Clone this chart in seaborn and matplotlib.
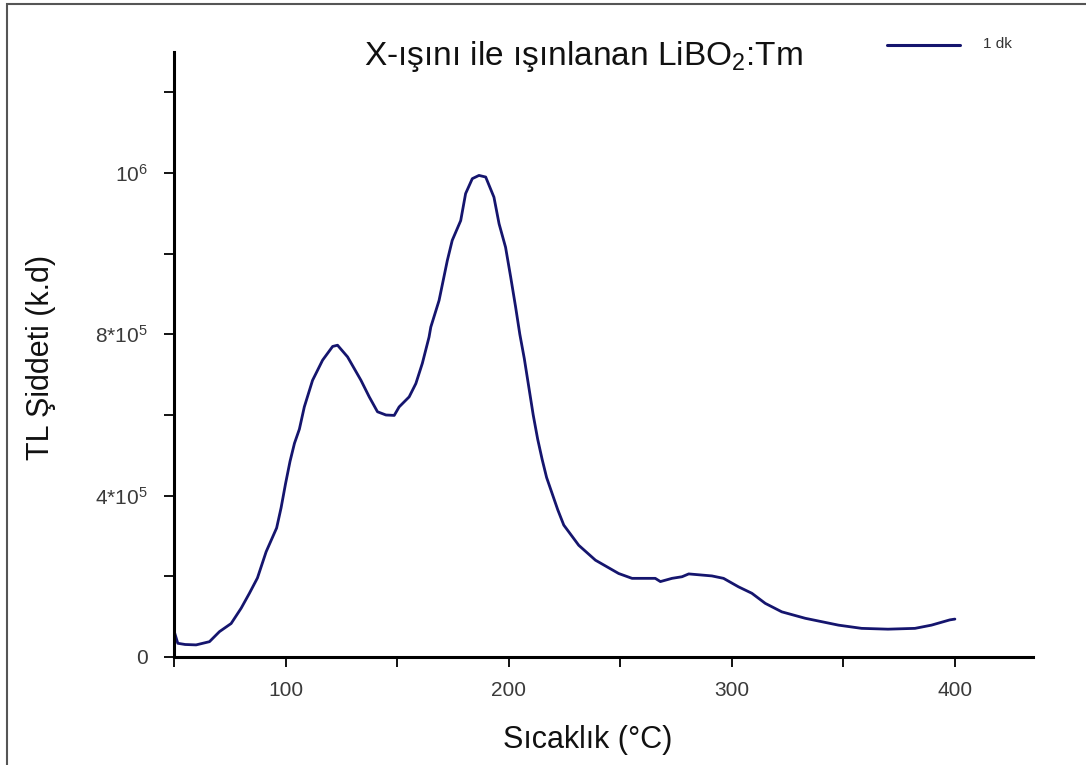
import matplotlib
matplotlib.use("Agg")
import matplotlib.pyplot as plt
import seaborn as sns
import pandas as pd
from matplotlib.patches import Rectangle

temperature = [50.0, 51.7, 55.0, 59.9, 65.9, 70.4, 75.6, 80.1, 83.8, 87.4, 91.3, 96.0, 98.0,
               100.0, 102.0, 104.0, 106.2, 108.4, 112.1, 116.6, 121.1, 123.3, 127.8, 133.8, 137.5,
               141.2, 145.0, 148.7, 150.9, 155.4, 158.4, 161.3, 164.3, 165.1, 168.8, 172.5,
               174.7, 178.5, 180.7, 183.7, 186.7, 189.7, 193.4, 195.7, 198.6, 200.9, 203.1,
               205.0, 207.0, 209.0, 211.0, 213.0, 215.0, 217.0, 219.5, 222.0, 224.7, 231.4,
               238.9, 249.3, 255.3, 265.7, 268.0, 273.2, 277.7, 280.7, 291.1, 296.3, 303.0,
               309.0, 315.0, 322.4, 332.9, 347.8, 358.2, 370.0, 382.1, 389.5, 397.7, 400.0]
intensity = [65000, 34000, 31000, 30000, 38000, 63000, 83000, 121000, 158000, 196000, 261000,
             320000, 370000, 430000, 485000, 530000, 565000, 620000, 686000, 736000, 770000,
             773000, 744000, 686000, 645000, 608000, 600000, 599000, 620000, 645000, 678000,
             728000, 793000, 818000, 884000, 983000, 1033000, 1082000, 1149000, 1186000,
             1194000, 1190000, 1140000, 1074000, 1016000, 942000, 868000, 800000, 740000,
             670000, 600000, 540000, 490000, 445000, 405000, 365000, 327000, 277000, 240000,
             207000, 195000, 195000, 187000, 195000, 199000, 206000, 201000, 195000, 174000,
             158000, 133000, 112000, 96000, 79000, 71000, 69000, 71000, 79000, 92000, 94000]
series_name = "1 dk"

x_major = [100, 200, 300, 400]
x_major_labels = ["100", "200", "300", "400"]
x_minor = [50, 150, 250, 350]
y_major = [0, 400000, 800000, 1200000]
y_major_labels = ["0", "4*10$^5$", "8*10$^5$", "10$^6$"]
y_minor = [200000, 600000, 1000000, 1400000]

title = "X-ışını ile ışınlanan LiBO$_2$:Tm"
xlabel = "Sıcaklık (°C)"
ylabel = "TL Şiddeti (k.d)"

sns.set_style("ticks")
plt.rcParams['font.family'] = ['Liberation Sans', 'DejaVu Sans']
plt.rcParams['mathtext.fontset'] = 'custom'
plt.rcParams['mathtext.rm'] = 'Liberation Sans'
plt.rcParams['mathtext.it'] = 'Liberation Sans'

df = pd.DataFrame({"temp": temperature, "tl": intensity, "series": series_name})

fig = plt.figure(figsize=(10.86, 7.65), dpi=100)
ax = fig.add_axes([174 / 1086, 1 - 657 / 765, (1033 - 174) / 1086, (657 - 52) / 765])

line_color = "#15156e"
sns.lineplot(data=df, x="temp", y="tl", hue="series", palette=[line_color],
             linewidth=2.0, ax=ax, legend=False)

ax.set_xlim(50, 435)
ax.set_ylim(0, 1500000)

ax.set_xticks(x_major)
ax.set_xticklabels(x_major_labels)
ax.set_xticks(x_minor, minor=True)
ax.set_yticks(y_major)
ax.set_yticklabels(y_major_labels)
ax.set_yticks(y_minor, minor=True)

for s in ["top", "right"]:
    ax.spines[s].set_visible(False)
for s in ["left", "bottom"]:
    ax.spines[s].set_linewidth(2.2)
    ax.spines[s].set_color("black")

ax.tick_params(which="both", direction="out", length=7, width=1.3, color="black")
ax.tick_params(axis="both", which="major", labelsize=15, labelcolor="#3a3a3a")
ax.tick_params(axis="x", which="major", pad=10)
ax.tick_params(axis="y", which="major", pad=12)

ax.set_xlabel(xlabel, fontsize=22, color="#111111", va="center", ha="center")
ax.xaxis.set_label_coords((588 - 174) / 859, (657 - 740) / 605)
ax.set_ylabel(ylabel, fontsize=22, color="#111111", va="center", ha="center")
ax.yaxis.set_label_coords((41 - 174) / 859, (657 - 357) / 605)

fig.text(583 / 1086, 1 - 57 / 765, title, fontsize=24, ha="center", va="center", color="#111111")

# legend
fig.lines.append(plt.Line2D([887 / 1086, 960 / 1086], [1 - 45 / 765, 1 - 45 / 765],
                            color=line_color, linewidth=2.2, transform=fig.transFigure))
fig.text(983 / 1086, 1 - 44 / 765, series_name, fontsize=11, ha="left", va="center", color="#333333")

# outer frame
fig.patches.append(Rectangle((7 / 1086, -0.1), 1.2, 1 - 4 / 765 + 0.1, transform=fig.transFigure,
                             fill=False, edgecolor="#555555", linewidth=1.5))

fig.savefig("out.png", dpi=100)
